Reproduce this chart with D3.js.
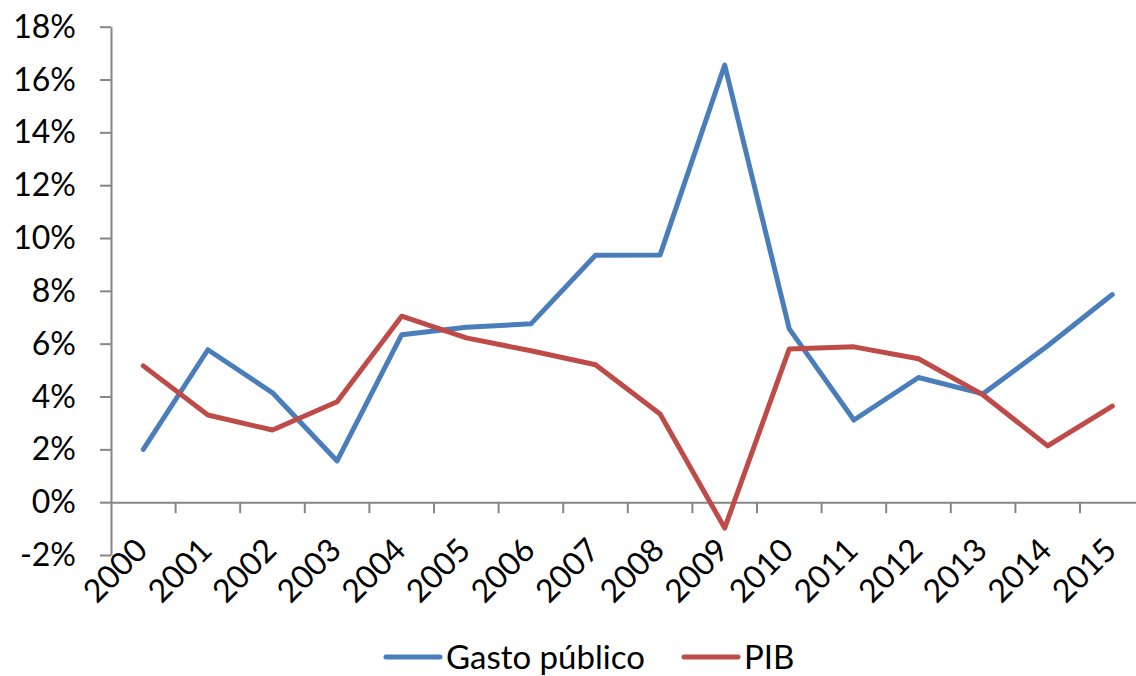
<!DOCTYPE html>
<html>
<head>
<meta charset="utf-8">
<script src="https://cdn.jsdelivr.net/npm/d3@7"></script>
<style>
  body { margin: 0; background: #fff; }
  text { font-family: Lato, "Open Sans", sans-serif; fill: #000; }
</style>
</head>
<body>
<div id="chart"></div>
<script>
// data
var years = ["2000","2001","2002","2003","2004","2005","2006","2007","2008","2009","2010","2011","2012","2013","2014","2015"]
var gasto = [2.0, 5.77, 4.14, 1.56, 6.34, 6.62, 6.75, 9.35, 9.36, 16.55, 6.56, 3.11, 4.72, 4.1, 5.92, 7.86]
var pib = [5.16, 3.3, 2.73, 3.8, 7.04, 6.22, 5.73, 5.2, 3.34, -0.98, 5.8, 5.88, 5.43, 4.06, 2.13, 3.64]
var yTicks = [-2, 0, 2, 4, 6, 8, 10, 12, 14, 16, 18]

var series = [
    { name: "Gasto público", values: gasto, color: "#4a7ebb" },
    { name: "PIB", values: pib, color: "#be4b48" }
]

var width = 1136, height = 676

var svg = d3.select('#chart').append('svg')
    .attr('width', width)
    .attr('height', height)

// plot area runs past the right edge, like the original
var x = d3.scaleBand()
    .domain(years)
    .range([111, 111 + 16 * 64.6])

var y = d3.scaleLinear()
    .domain([-2, 18])
    .range([555, 26.7])

var axisColor = "#868686"

// y axis
var yAxis = svg.append('g')
    .attr('transform', 'translate(111,0)')
    .call(d3.axisLeft(y).tickValues(yTicks).tickSize(11).tickSizeOuter(0).tickPadding(24)
        .tickFormat(d => d + "%"))
yAxis.select('.domain').attr('stroke', axisColor).attr('stroke-width', 2)
yAxis.selectAll('.tick line').attr('stroke', axisColor).attr('stroke-width', 2)
yAxis.selectAll('.tick text').attr('font-size', 32).attr('dy', '0.33em')
    .style('font-family', 'Lato, sans-serif')

// x axis at 0%
var xAxis = svg.append('g')
    .attr('transform', 'translate(0,' + y(0) + ')')
    .call(d3.axisBottom(x).tickSize(0).tickSizeOuter(0).tickFormat(''))
xAxis.select('.domain').attr('stroke', axisColor).attr('stroke-width', 2)

// tick marks between the categories
svg.append('g').selectAll('line')
    .data(years)
    .join('line')
    .attr('x1', d => x(d) + x.bandwidth())
    .attr('x2', d => x(d) + x.bandwidth())
    .attr('y1', y(0))
    .attr('y2', y(0) + 11)
    .attr('stroke', axisColor)
    .attr('stroke-width', 2)

// rotated year labels
svg.append('g').selectAll('text')
    .data(years)
    .join('text')
    .attr('transform', d => 'translate(' + (x(d) + x.bandwidth() / 2 + 6) + ',552) rotate(-45)')
    .attr('text-anchor', 'end')
    .attr('font-size', 32)
    .text(d => d)

// lines
var line = d3.line()
    .x((d, i) => x(years[i]) + x.bandwidth() / 2)
    .y(d => y(d))

svg.append('g').selectAll('path')
    .data(series)
    .join('path')
    .attr('d', d => line(d.values))
    .attr('fill', 'none')
    .attr('stroke', d => d.color)
    .attr('stroke-width', 5)
    .attr('stroke-linejoin', 'round')
    .attr('stroke-linecap', 'round')

// legend
var legendPos = [386, 684]
var legend = svg.append('g').selectAll('g')
    .data(series)
    .join('g')
    .attr('transform', (d, i) => 'translate(' + legendPos[i] + ',657)')
legend.append('line')
    .attr('x1', 0).attr('x2', 54)
    .attr('stroke', d => d.color)
    .attr('stroke-width', 5)
    .attr('stroke-linecap', 'round')
legend.append('text')
    .attr('x', 60)
    .attr('dy', '0.36em')
    .attr('font-size', 33)
    .text(d => d.name)
</script>
</body>
</html>
